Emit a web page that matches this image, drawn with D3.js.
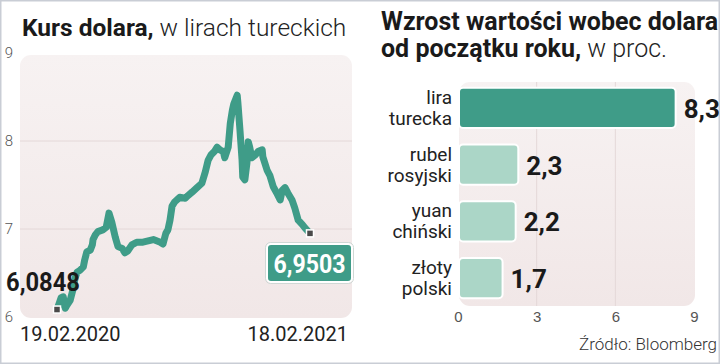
<!DOCTYPE html>
<html><head><meta charset="utf-8">
<script src="https://cdn.jsdelivr.net/npm/d3@7/dist/d3.min.js"></script>
<style>
html,body{margin:0;padding:0;background:#fff;}
svg{display:block;font-family:Roboto,"Open Sans",sans-serif;}
</style></head>
<body>
<svg id="c" width="720" height="364"></svg>
<script>
// ---- Data: USD/TRY line (days since 19.02.2020, rate) ----
const startDate = "2020-02-19";
const endDate = "2021-02-18";
const dayOffsets = [0,3,6,9,12,14,19,23,26,29,33,38,40,43,48,51,52,55,59,66,71,75,79,84,88,94,98,102,108,115,124,139,149,153,157,160,163,166,170,177,185,189,195,202,209,214,218,222,227,231,235,240,242,247,250,253,255,260,261,264,267,268,271,274,276,278,281,286,290,296,297,303,307,312,317,322,325,329,333,339,343,348,354,358,365];
const rates = [6.0848,6.15,6.22,6.23,6.10,6.13,6.19,6.31,6.44,6.51,6.53,6.57,6.65,6.74,6.76,6.82,6.88,6.93,6.97,6.99,7.02,7.18,7.08,6.91,6.80,6.78,6.73,6.75,6.82,6.85,6.85,6.88,6.85,6.83,6.95,6.99,7.10,7.26,7.31,7.36,7.35,7.38,7.42,7.47,7.52,7.65,7.78,7.84,7.88,7.93,7.90,7.88,7.81,7.93,8.20,8.35,8.42,8.52,8.43,8.12,7.78,7.59,7.56,7.75,7.99,7.93,7.81,7.84,7.88,7.90,7.82,7.67,7.61,7.48,7.41,7.33,7.44,7.47,7.41,7.33,7.24,7.10,7.05,7.01,6.9503];
const yTicks = [6,7,8,9];
const xTickLabels = ["19.02.2020","18.02.2021"];
const firstLabel = "6,0848";
const lastLabel = "6,9503";

// ---- Data: bar chart ----
const categories = [["lira","turecka"],["rubel","rosyjski"],["yuan","chiński"],["złoty","polski"]];
const growth = [8.3,2.3,2.2,1.7];
const xBarTicks = [0,3,6,9];

const leftTitleBold = "Kurs dolara,";
const leftTitleLight = " w lirach tureckich";
const rightTitle1 = "Wzrost wartości wobec dolara";
const rightTitle2Bold = "od początku roku,";
const rightTitle2Light = " w proc.";
const source = "Źródło: Bloomberg";

const pl = d3.formatLocale({decimal:",",thousands:" ",grouping:[3],currency:["","zł"]});
const fmt1 = pl.format(".1f");

const svg = d3.select("#c");
const defs = svg.append("defs");
const g1 = defs.append("linearGradient").attr("id","bg").attr("x1",0).attr("y1",0).attr("x2",0).attr("y2",1);
g1.append("stop").attr("offset","0%").attr("stop-color","#f7f2f2");
g1.append("stop").attr("offset","100%").attr("stop-color","#f1e7e7");

const DARK = "#3f9c88", LIGHT = "#abd6c7";

// frame
svg.append("rect").attr("x",0.75).attr("y",0.75).attr("width",718.5).attr("height",362.5)
  .attr("fill","none").attr("stroke","#c9cdd5").attr("stroke-width",1.5);

// ---------- Left chart ----------
const parse = d3.timeParse("%Y-%m-%d");
const t0 = parse(startDate), t1 = parse(endDate);
const x = d3.scaleTime().domain([t0,t1]).range([57,310]);
const y = d3.scaleLinear().domain([6,9]).range([317,53]);

svg.append("rect").attr("x",20).attr("y",55).attr("width",332).attr("height",263).attr("rx",11)
  .attr("fill","url(#bg)");

// gridlines
svg.append("g").selectAll("line").data(yTicks.filter(d=>d>6 && d<9)).join("line")
  .attr("x1",20).attr("x2",352).attr("y1",d=>y(d)).attr("y2",d=>y(d))
  .attr("stroke","#e4d8d8").attr("stroke-width",1);

// y axis labels
const yAxis = d3.axisLeft(y).tickValues(yTicks).tickSize(0).tickPadding(0).tickFormat(d3.format("d"));
const ya = svg.append("g").attr("transform","translate(13,0)").call(yAxis);
ya.select(".domain").remove();
ya.selectAll("text").attr("font-size",15).attr("fill","#555").attr("font-weight",300).attr("font-family","Roboto");

// line
const pts = dayOffsets.map((o,i)=>({d:d3.timeDay.offset(t0,o), v:rates[i]}));
svg.append("path").datum(pts)
  .attr("d", d3.line().x(d=>x(d.d)).y(d=>y(d.v)))
  .attr("fill","none").attr("stroke",DARK).attr("stroke-width",7)
  .attr("stroke-linejoin","round").attr("stroke-linecap","round");

// x labels
svg.append("text").attr("x",20).attr("y",341).text(xTickLabels[0])
  .attr("font-size",20).attr("fill","#222").attr("font-weight",400);
svg.append("text").attr("x",348).attr("y",341).attr("text-anchor","end").text(xTickLabels[1])
  .attr("font-size",20).attr("fill","#222").attr("font-weight",400);

// first label
svg.append("text").attr("x",6).attr("y",291).text(firstLabel)
  .attr("font-size",25).attr("font-weight",700).attr("fill","#1a1a1a").attr("textLength",74).attr("lengthAdjust","spacingAndGlyphs");

// last label box
const lp = pts[pts.length-1];
svg.append("rect").attr("x",267).attr("y",244).attr("width",85).attr("height",38).attr("rx",4)
  .attr("fill",DARK).attr("stroke","#fff").attr("stroke-width",2);
svg.append("rect").attr("x",265.5).attr("y",242.5).attr("width",88).attr("height",41).attr("rx",5)
  .attr("fill","none").attr("stroke","#cfd8d5").attr("stroke-width",1);
svg.append("text").attr("x",309.5).attr("y",273).attr("text-anchor","middle").text(lastLabel)
  .attr("font-size",26).attr("font-weight",700).attr("fill","#fff").attr("textLength",72).attr("lengthAdjust","spacingAndGlyphs");

// markers
[pts[0], lp].forEach(p=>{
  svg.append("rect").attr("x",x(p.d)-3.5).attr("y",y(p.v)-3.5).attr("width",7).attr("height",7)
    .attr("fill","#4a4a4a").attr("stroke","#fff").attr("stroke-width",1.5);
});

// title
const tl = svg.append("text").attr("x",22).attr("y",36).attr("font-size",24.5);
tl.append("tspan").attr("font-weight",700).attr("fill","#1a1a1a").text(leftTitleBold);
tl.append("tspan").attr("font-weight",300).attr("fill","#222").text(leftTitleLight);

// ---------- Right chart ----------
const xb = d3.scaleLinear().domain([0,9]).range([458,694]);
const yb = d3.scaleBand().domain(d3.range(categories.length)).range([82,304]).paddingInner(0.29).paddingOuter(0.1);

svg.append("rect").attr("x",459).attr("y",82).attr("width",236).attr("height",224).attr("rx",11)
  .attr("fill","url(#bg)");
svg.append("g").selectAll("line").data(xBarTicks.filter(d=>d>0 && d<9)).join("line")
  .attr("x1",d=>xb(d)).attr("x2",d=>xb(d)).attr("y1",82).attr("y2",306)
  .attr("stroke","#e4d8d8").attr("stroke-width",1);

svg.append("g").selectAll("rect").data(growth).join("rect")
  .attr("x",xb(0)+1).attr("y",(d,i)=>yb(i)).attr("width",d=>xb(d)-xb(0)-1).attr("height",yb.bandwidth())
  .attr("rx",4).attr("fill",(d,i)=>i===0?DARK:LIGHT).attr("stroke","#fff").attr("stroke-width",2);

svg.append("g").selectAll("text").data(growth).join("text")
  .attr("x",d=>xb(d)+8).attr("y",(d,i)=>yb(i)+yb.bandwidth()/2+10)
  .text(d=>fmt1(d)).attr("font-size",26).attr("font-weight",700).attr("fill","#1a1a1a");

const catG = svg.append("g").attr("text-anchor","end").attr("font-size",19).attr("fill","#222");
catG.selectAll("text.l1").data(categories).join("text").attr("class","l1")
  .attr("x",452).attr("y",(d,i)=>yb(i)+yb.bandwidth()/2-4).text(d=>d[0]);
catG.selectAll("text.l2").data(categories).join("text").attr("class","l2")
  .attr("x",452).attr("y",(d,i)=>yb(i)+yb.bandwidth()/2+17).text(d=>d[1]);

const xa = svg.append("g").attr("transform","translate(0,328)")
  .call(d3.axisBottom(xb).tickValues(xBarTicks).tickSize(0).tickPadding(0).tickFormat(d3.format("d")));
xa.select(".domain").remove();
xa.selectAll("text").attr("font-size",15).attr("fill","#555").attr("font-weight",300).attr("dy",0).attr("y",-6);

const rt = svg.append("text").attr("x",381).attr("y",30).attr("font-size",25).attr("font-weight",700).attr("fill","#1a1a1a").text(rightTitle1);
const rt2 = svg.append("text").attr("x",381).attr("y",57).attr("font-size",25);
rt2.append("tspan").attr("font-weight",700).attr("fill","#1a1a1a").text(rightTitle2Bold);
rt2.append("tspan").attr("font-weight",300).attr("fill","#222").text(rightTitle2Light);

svg.append("text").attr("x",717).attr("y",350).attr("text-anchor","end").text(source)
  .attr("font-size",17).attr("font-weight",300).attr("fill","#333");
</script>
</body></html>
